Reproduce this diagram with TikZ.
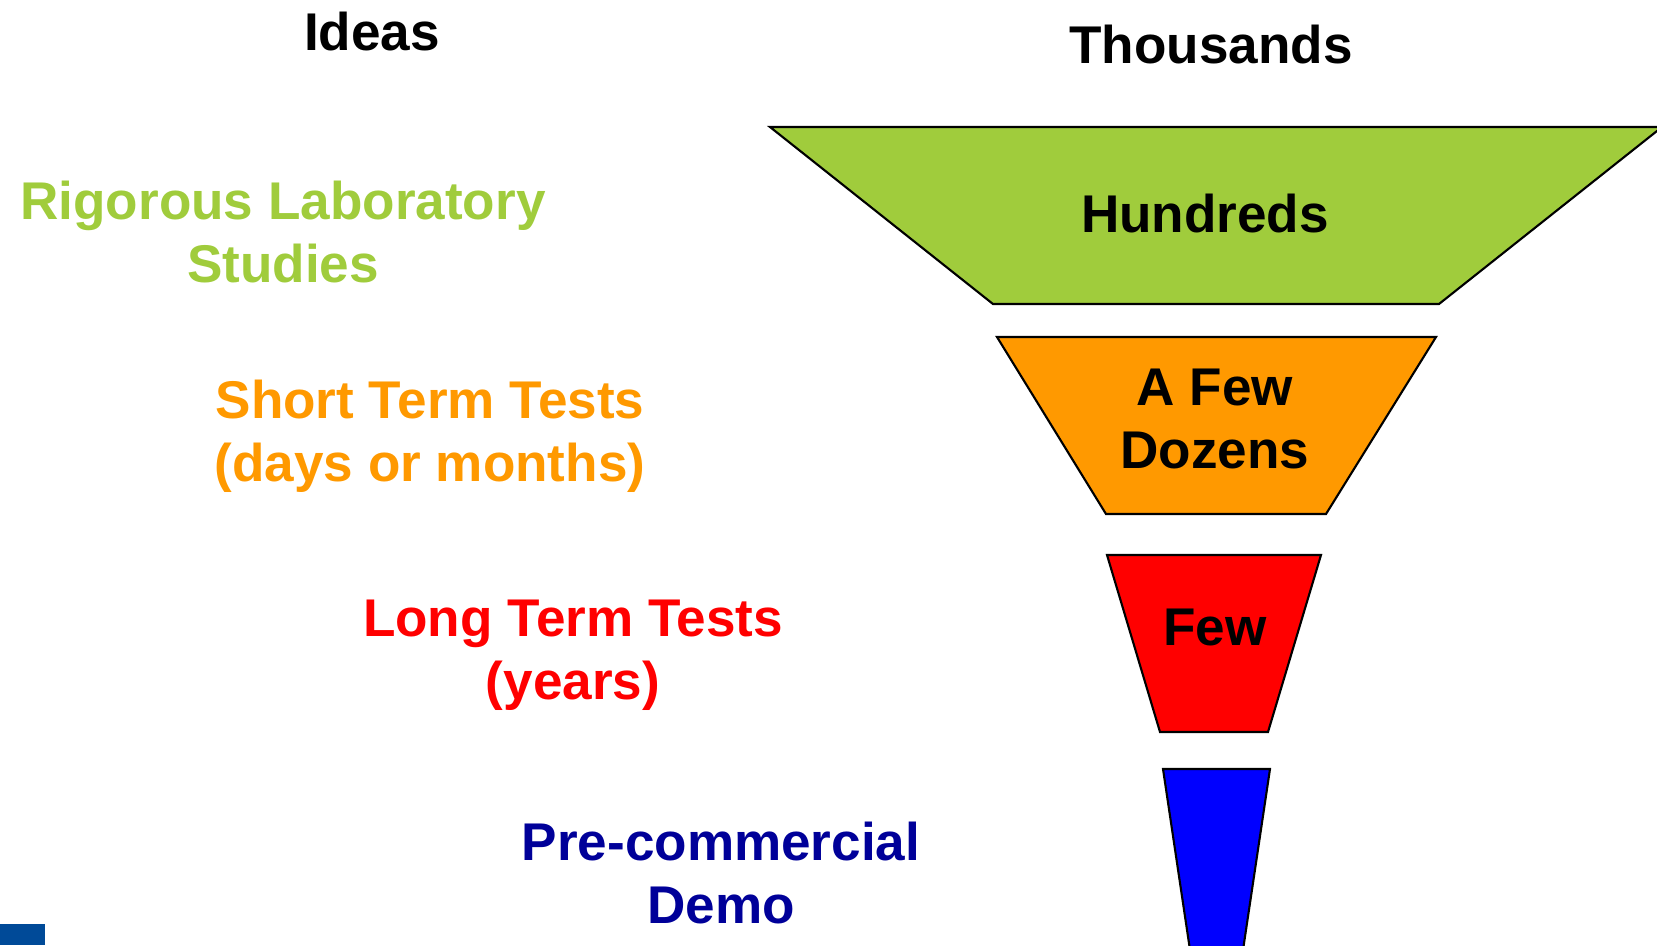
\documentclass[tikz,border=0pt]{standalone}
\usepackage{fontspec}
\setmainfont{Liberation Sans}
\usetikzlibrary{calc}

\definecolor{labgreen}{HTML}{A0CC3C}
\definecolor{shortorange}{HTML}{FF9900}
\definecolor{longred}{HTML}{FF0000}
\definecolor{demoblue}{HTML}{0000FF}
\definecolor{demotext}{HTML}{000099}
\definecolor{cornerblue}{HTML}{004A98}

\begin{document}
\begin{tikzpicture}[x=0.01cm, y=-0.01cm,
    stagetext/.style={font=\bfseries\fontsize{15.1pt}{17.9pt}\selectfont, align=center, inner sep=0pt, anchor=base},
    funnel/.style={draw=black, line width=0.6pt, line join=miter}]
    \useasboundingbox (0,0) rectangle (1657,945);

    % corners of the funnel
    \coordinate (G1) at (770, 127);
    \coordinate (G2) at (1662, 127);
    \coordinate (G3) at (1439, 304);
    \coordinate (G4) at (993, 304);
    \coordinate (O1) at (997, 337);
    \coordinate (O2) at (1436, 337);
    \coordinate (O3) at (1326, 514);
    \coordinate (O4) at (1106, 514);
    \coordinate (R1) at (1107, 555);
    \coordinate (R2) at (1321, 555);
    \coordinate (R3) at (1268, 732);
    \coordinate (R4) at (1160, 732);
    \coordinate (B1) at (1163, 769);
    \coordinate (B2) at (1270, 769);
    \coordinate (B3) at (1243, 950);
    \coordinate (B4) at (1190, 950);

    % funnel
    \draw [funnel, fill=labgreen] (G1) -- (G2) -- (G3) -- (G4) -- cycle;
    \draw [funnel, fill=shortorange] (O1) -- (O2) -- (O3) -- (O4) -- cycle;
    \draw [funnel, fill=longred] (R1) -- (R2) -- (R3) -- (R4) -- cycle;
    \draw [funnel, fill=demoblue] (B1) -- (B2) -- (B3) -- (B4) -- cycle;

    % corner mark
    \fill [cornerblue] (0, 924) rectangle (45, 945);

    % headings
    \node [stagetext] (ideas) at (372, 50) {Ideas};
    \node [stagetext] (thousands) at (1211, 63) {Thousands};

    % stages (base = last line)
    \node [stagetext, text=labgreen] (lab) at (283, 282) {Rigorous Laboratory\\Studies};
    \node [stagetext, text=shortorange] (short) at (430, 481) {Short Term Tests\\(days or months)};
    \node [stagetext, text=longred] (long) at (573, 699) {Long Term Tests\\(years)};
    \node [stagetext, text=demotext] (demo) at (721, 923) {Pre-commercial\\Demo};

    % counts
    \node [stagetext] (hundreds) at (1205, 232) {Hundreds};
    \node [stagetext] (dozens) at (1215, 468) {A Few\\Dozens};
    \node [stagetext] (few) at (1215, 645) {Few};
\end{tikzpicture}
\end{document}
